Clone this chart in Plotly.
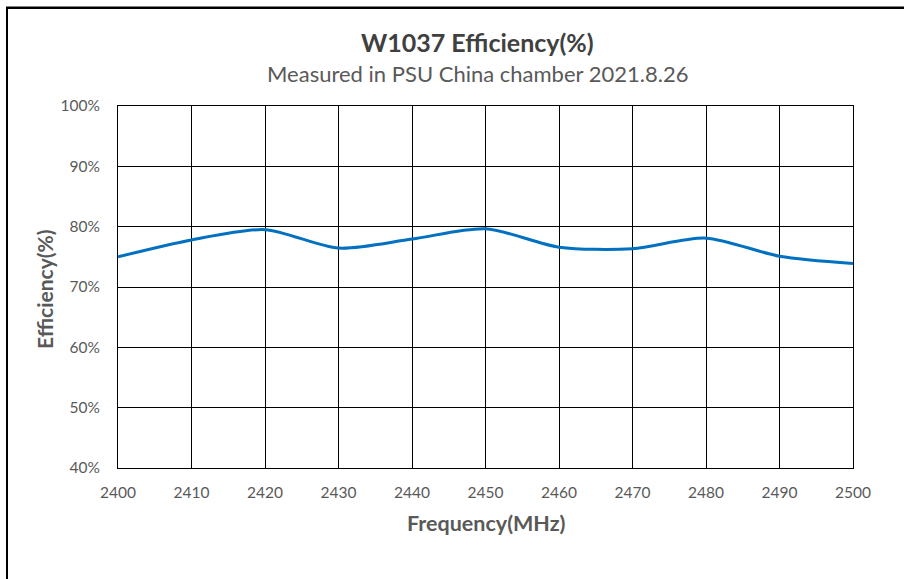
import plotly.graph_objects as go

freq_mhz = [2400, 2410, 2420, 2430, 2440, 2450, 2460, 2470, 2480, 2490, 2500]
efficiency_pct = [75.0, 77.8, 79.5, 76.45, 77.95, 79.65, 76.6, 76.35, 78.1, 75.1, 73.9]
y_tick_vals = [40, 50, 60, 70, 80, 90, 100]
y_tick_text = ["40%", "50%", "60%", "70%", "80%", "90%", "100%"]
x_tick_vals = [2400, 2410, 2420, 2430, 2440, 2450, 2460, 2470, 2480, 2490, 2500]

FONT = "Lato"
W, H = 904, 579
L, R, T, B = 118, 51, 106, 111
pw, ph = W - L - R, H - T - B

def px(x):
    return (x - L) / pw

def py(y):
    return (H - B - y) / ph

fig = go.Figure()
fig.add_trace(go.Scatter(
    x=freq_mhz, y=efficiency_pct, mode="lines",
    line=dict(color="#0070C0", width=3, shape="spline", smoothing=0.8),
    showlegend=False, hoverinfo="skip",
))

fig.update_layout(
    width=W, height=H,
    margin=dict(l=L, r=R, t=T, b=B),
    paper_bgcolor="white", plot_bgcolor="white",
    font=dict(family=FONT, color="#595959"),
    xaxis=dict(
        range=[2400, 2500], tickvals=x_tick_vals,
        showgrid=True, gridcolor="#000000", gridwidth=1,
        showline=True, linecolor="#000000", linewidth=1, mirror=True,
        zeroline=False, ticks="", tickfont=dict(size=15.5, color="#595959", family=FONT),
        ticklabelstandoff=10, fixedrange=True,
    ),
    yaxis=dict(
        range=[40, 100], tickvals=y_tick_vals, ticktext=y_tick_text,
        showgrid=True, gridcolor="#000000", gridwidth=1,
        showline=True, linecolor="#000000", linewidth=1, mirror=True,
        zeroline=False, ticks="", tickfont=dict(size=15.5, color="#595959", family=FONT),
        ticklabelstandoff=14, fixedrange=True,
    ),
)

annotations = [
    dict(text="<b>W1037 Efficiency(%)</b>", x=px(477), y=py(42), xref="paper", yref="paper",
         showarrow=False, font=dict(size=25, color="#404040", family=FONT), xanchor="center", yanchor="middle"),
    dict(text="Measured in PSU China chamber 2021.8.26", x=px(477), y=py(73), xref="paper", yref="paper",
         showarrow=False, font=dict(size=22, color="#595959", family=FONT), xanchor="center", yanchor="middle"),
    dict(text="<b>Frequency(MHz)</b>", x=px(486), y=py(523), xref="paper", yref="paper",
         showarrow=False, font=dict(size=21.5, color="#595959", family=FONT), xanchor="center", yanchor="middle"),
    dict(text="<b>Efficiency(%)</b>", x=px(44), y=py(289), xref="paper", yref="paper", textangle=-90,
         showarrow=False, font=dict(size=21, color="#595959", family=FONT), xanchor="center", yanchor="middle"),
]
fig.update_layout(annotations=annotations)

fig.add_shape(type="line", xref="paper", yref="paper", x0=px(6), x1=px(904), y0=py(7.7), y1=py(7.7),
              line=dict(color="black", width=2.5))
fig.add_shape(type="line", xref="paper", yref="paper", x0=px(7), x1=px(7), y0=py(7), y1=py(579),
              line=dict(color="black", width=2))

fig.write_html("out.html", config={"displayModeBar": False},
               post_script="document.body.style.margin='0';document.body.style.padding='0';")
